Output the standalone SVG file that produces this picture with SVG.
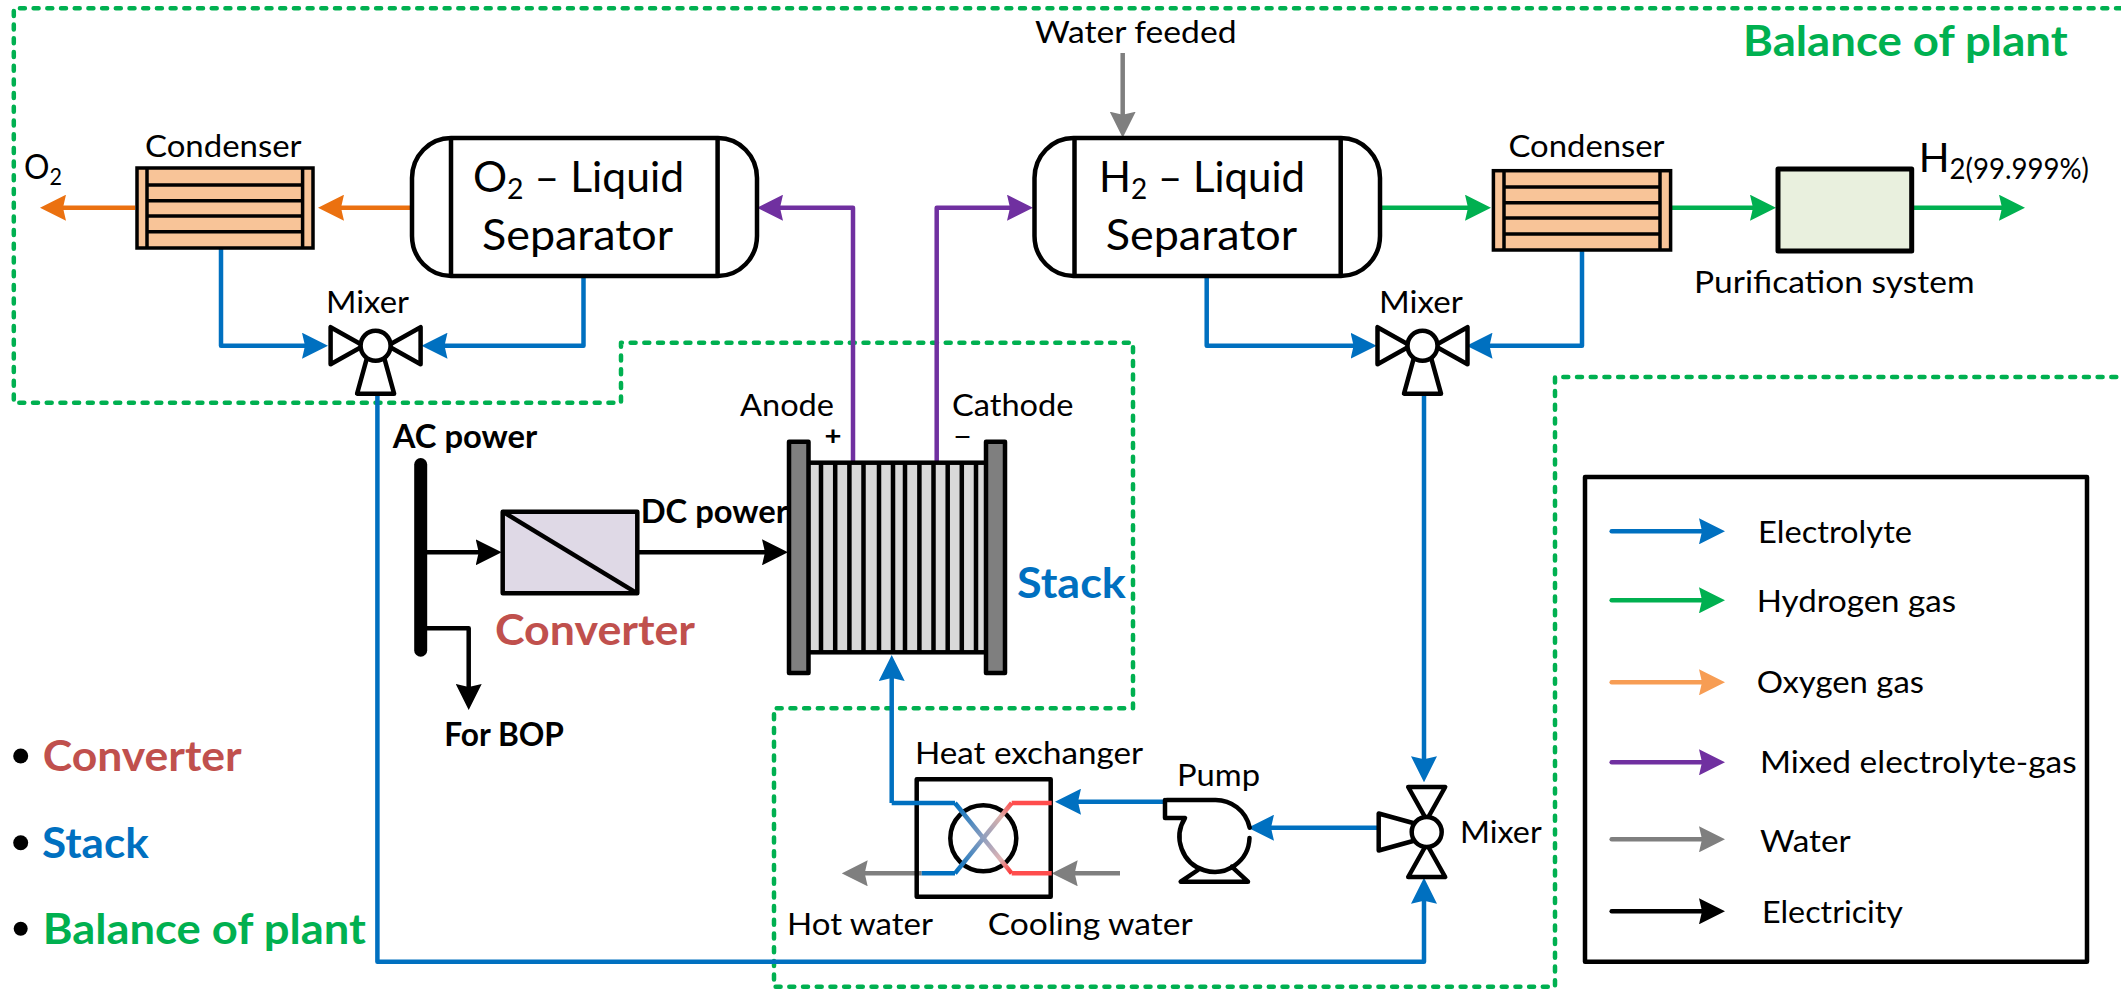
<svg xmlns="http://www.w3.org/2000/svg" width="2121" height="993" viewBox="0 0 2121 993">
<style>
text{font-family:"Lato","Carlito","Open Sans",sans-serif;fill:#000}
.l{font-size:31.5px}
.big{font-size:42px}
.b{font-weight:700}
.e{fill:none;stroke:#000;stroke-width:4.5;stroke-linejoin:round}
.c{fill:none;stroke-width:4.5;stroke-linejoin:round}
.blue{stroke:#0070c0}.green{stroke:#00b050}.orange{stroke:#eb7110}.lorange{stroke:#f79d54}.purple{stroke:#7030a0}.gray{stroke:#7f7f7f}.black{stroke:#000}
.lg{stroke-linecap:round}
.vb{marker-end:url(#ab)}.vg{marker-end:url(#ag)}.vo{marker-end:url(#ao)}.vl{marker-end:url(#al)}.vp{marker-end:url(#ap)}.vy{marker-end:url(#ay)}.vk{marker-end:url(#ak)}
.hl{fill:#f8c498;stroke:#000;stroke-width:3.5}
.ln{fill:none;stroke:#000;stroke-width:3.5}
.plate{fill:#7f7f7f;stroke:#000;stroke-width:4.5;stroke-linejoin:round}
</style>
<defs>
<marker id="ab" markerUnits="userSpaceOnUse" viewBox="0 0 26 26" markerWidth="26" markerHeight="26" refX="18" refY="13" orient="auto"><path d="M0 0L26 13L0 26L3 13Z" fill="#0070c0"/></marker>
<marker id="ag" markerUnits="userSpaceOnUse" viewBox="0 0 26 26" markerWidth="26" markerHeight="26" refX="18" refY="13" orient="auto"><path d="M0 0L26 13L0 26L3 13Z" fill="#00b050"/></marker>
<marker id="ao" markerUnits="userSpaceOnUse" viewBox="0 0 26 26" markerWidth="26" markerHeight="26" refX="18" refY="13" orient="auto"><path d="M0 0L26 13L0 26L3 13Z" fill="#eb7110"/></marker>
<marker id="al" markerUnits="userSpaceOnUse" viewBox="0 0 26 26" markerWidth="26" markerHeight="26" refX="18" refY="13" orient="auto"><path d="M0 0L26 13L0 26L3 13Z" fill="#f79d54"/></marker>
<marker id="ap" markerUnits="userSpaceOnUse" viewBox="0 0 26 26" markerWidth="26" markerHeight="26" refX="18" refY="13" orient="auto"><path d="M0 0L26 13L0 26L3 13Z" fill="#7030a0"/></marker>
<marker id="ay" markerUnits="userSpaceOnUse" viewBox="0 0 26 26" markerWidth="26" markerHeight="26" refX="18" refY="13" orient="auto"><path d="M0 0L26 13L0 26L3 13Z" fill="#7f7f7f"/></marker>
<marker id="ak" markerUnits="userSpaceOnUse" viewBox="0 0 26 26" markerWidth="26" markerHeight="26" refX="18" refY="13" orient="auto"><path d="M0 0L26 13L0 26L3 13Z" fill="#000"/></marker>
<g id="mixer-shape">
<path d="M-45 -18.5V18.5L-12 0Z M45 -18.5V18.5L12 0Z M-18.5 48H18.5L8 10H-8Z" fill="#fff" stroke="#000" stroke-width="4.5" stroke-linejoin="round"/>
<circle r="15" fill="#fff" stroke="#000" stroke-width="4.5"/>
</g>
<linearGradient id="g1" gradientUnits="userSpaceOnUse" x1="955" y1="803" x2="1011.7" y2="873.3"><stop offset="0" stop-color="#0070c0"/><stop offset=".5" stop-color="#8f9fbf"/><stop offset=".8" stop-color="#e0b4b4"/><stop offset="1" stop-color="#ff3030"/></linearGradient>
<linearGradient id="g2" gradientUnits="userSpaceOnUse" x1="955" y1="873.3" x2="1011.7" y2="803"><stop offset="0" stop-color="#0070c0"/><stop offset=".5" stop-color="#8f9fbf"/><stop offset=".8" stop-color="#d9b0ac"/><stop offset="1" stop-color="#ff4d4d"/></linearGradient>
</defs>

<g id="boundaries"><path d="M2121 8.3H13.8V402.7H621V342.7H1133V708.3H774V986.7H1555V377H2121" fill="none" stroke="#00b050" stroke-width="4.5" stroke-linecap="round" stroke-linejoin="round" stroke-dasharray="5 8.7"/></g>

<g id="connectors">
<path class="c orange vo" d="M135 207.7H48"/>
<path class="c orange vo" d="M413 207.7H326"/>
<path class="c blue vb" d="M221 248V345.7H320"/>
<path class="c blue vb" d="M583.5 276V345.7H429.5"/>
<path class="c blue vb" d="M377.4 394V961.7H1424V885.7"/>
<path class="c blue vb" d="M1206.7 276V345.7H1368.6"/>
<path class="c blue vb" d="M1582 250V345.7H1474.5"/>
<path class="c blue vb" d="M1424 394V774.3"/>
<path class="c blue vb" d="M1377 827.7H1256"/>
<path class="c blue vb" d="M1166.7 801.7H1063"/>
<path class="c blue vb" d="M891.7 803V663"/>
<path class="c purple vp" d="M853 462V207.7H765"/>
<path class="c purple vp" d="M936.7 462V207.7H1025"/>
<path class="c gray vy" d="M1122.7 53V129.7"/>
<path class="c gray vy" d="M1120 873.3H1059.7"/>
<path class="c gray vy" d="M921.7 873.3H849.7"/>
<path class="c green vg" d="M1380 207.7H1483"/>
<path class="c green vg" d="M1668 207.7H1768"/>
<path class="c green vg" d="M1911.7 207.7H2017"/>
<path class="c black vk" d="M427 552.3H493.7"/>
<path class="c black vk" d="M637 552.3H780"/>
<path class="c black vk" d="M427 628.3H468.7V702"/>
</g>

<g id="o2-label"><text x="24" y="179" textLength="38" lengthAdjust="spacingAndGlyphs" style="font-size:34px">O<tspan dy="6" style="font-size:23px">2</tspan></text></g>

<g id="condenser-1">
<rect class="hl" x="137" y="168" width="176" height="80"/>
<path class="ln" d="M147 168V248M302.6 168V248M147 185H302.6M147 200.7H302.6M147 216H302.6M147 231.7H302.6"/>
<text class="l" x="145" y="157" textLength="156.6" lengthAdjust="spacingAndGlyphs">Condenser</text>
</g>

<g id="o2-separator">
<rect class="e" x="412" y="138" width="345" height="138" rx="39" ry="40" fill="#fff"/>
<path class="e" d="M451 138V276M717.6 138V276"/>
<text class="big" x="473" y="192" textLength="211" lengthAdjust="spacingAndGlyphs">O<tspan dy="7" style="font-size:28px">2</tspan><tspan dy="-7"> – Liquid</tspan></text>
<text class="big" x="482" y="250" textLength="191" lengthAdjust="spacingAndGlyphs">Separator</text>
</g>

<g id="mixer-1">
<use href="#mixer-shape" transform="translate(375.6 345.7)"/>
<text class="l" x="326" y="313" textLength="83" lengthAdjust="spacingAndGlyphs">Mixer</text>
</g>

<g id="h2-separator">
<rect class="e" x="1034.5" y="138" width="345.5" height="138" rx="39" ry="40"/>
<path class="e" d="M1074.5 138V276M1340.7 138V276"/>
<text class="big" x="1099" y="192" textLength="206" lengthAdjust="spacingAndGlyphs">H<tspan dy="7" style="font-size:28px">2</tspan><tspan dy="-7"> – Liquid</tspan></text>
<text class="big" x="1105.7" y="250" textLength="191.3" lengthAdjust="spacingAndGlyphs">Separator</text>
</g>

<g id="water-feeded"><text class="l" x="1035" y="43" textLength="201.5" lengthAdjust="spacingAndGlyphs">Water feeded</text></g>

<g id="condenser-2">
<rect class="hl" x="1493.4" y="170.7" width="177.2" height="79.3"/>
<path class="ln" d="M1504 170.7V250M1660 170.7V250M1504 187H1660M1504 202.7H1660M1504 218H1660M1504 234H1660"/>
<text class="l" x="1508.5" y="157" textLength="156" lengthAdjust="spacingAndGlyphs">Condenser</text>
</g>

<g id="purification-system">
<rect x="1778" y="169" width="133.7" height="82" fill="#e9f0de" stroke="#000" stroke-width="5" stroke-linejoin="round"/>
<text class="l" x="1694" y="293" textLength="280.5" lengthAdjust="spacingAndGlyphs">Purification system</text>
</g>

<g id="h2-output"><text x="1918.7" y="171.7" textLength="170.3" lengthAdjust="spacingAndGlyphs" style="font-size:41px">H<tspan dy="7.5" style="font-size:28px">2(99.999%)</tspan></text></g>

<g id="balance-title"><text class="big b" x="1743" y="56" textLength="324.6" lengthAdjust="spacingAndGlyphs" style="fill:#00b050">Balance of plant</text></g>

<g id="mixer-2">
<use href="#mixer-shape" transform="translate(1422.5 345.7)"/>
<text class="l" x="1379" y="313" textLength="83.7" lengthAdjust="spacingAndGlyphs">Mixer</text>
</g>

<g id="mixer-3">
<use href="#mixer-shape" transform="translate(1426.7 832) rotate(90)"/>
<text class="l" x="1460" y="843" textLength="81.7" lengthAdjust="spacingAndGlyphs">Mixer</text>
</g>

<g id="pump">
<path class="e" d="M1166.7 800H1214A35 35 0 0 1 1249.7 827.7M1249.5 838A35 35 0 1 1 1185 818H1165V800M1198 870L1180.7 881.7H1248L1231.7 866.7" stroke-linecap="round"/>
<text class="l" x="1177" y="785.7" textLength="83" lengthAdjust="spacingAndGlyphs">Pump</text>
</g>

<g id="heat-exchanger">
<rect class="e" x="916.7" y="779.3" width="134" height="117.4"/>
<circle class="e" cx="983.3" cy="838.3" r="33"/>
<path class="c" stroke="url(#g1)" d="M955 803L1011.7 873.3"/>
<path class="c" stroke="url(#g2)" d="M955 873.3L1011.7 803"/>
<path class="c blue" d="M891.7 803H955M921.7 873.3H955"/>
<path class="c" stroke="#ff4d4d" d="M1011.7 803H1051.7M1011.7 873.3H1051.7"/>
<text class="l" x="915" y="764" textLength="228" lengthAdjust="spacingAndGlyphs">Heat exchanger</text>
<text class="l" x="787" y="935" textLength="146" lengthAdjust="spacingAndGlyphs">Hot water</text>
<text class="l" x="987.7" y="935" textLength="205" lengthAdjust="spacingAndGlyphs">Cooling water</text>
</g>

<g id="stack">
<rect x="808" y="462.7" width="180" height="189.6" fill="#d9d9d9" stroke="#000" stroke-width="4.5"/>
<path d="M821 462V652M835.2 462V652M849.4 462V652M863.5 462V652M879 462V652M893 462V652M905 462V652M919.4 462V652M933.5 462V652M947.7 462V652M961.8 462V652M976 462V652" stroke="#000" stroke-width="4.5" fill="none"/>
<rect class="plate" x="789" y="441.7" width="19.5" height="231.3"/>
<rect class="plate" x="986" y="441.7" width="19" height="231.3"/>
<text class="l" x="740" y="416" textLength="94" lengthAdjust="spacingAndGlyphs">Anode</text>
<text class="l" x="952" y="416" textLength="121.5" lengthAdjust="spacingAndGlyphs">Cathode</text>
<text class="b" x="824.5" y="444.5" textLength="17" lengthAdjust="spacingAndGlyphs" style="font-size:27px">+</text>
<text class="b" x="953.5" y="443.5" textLength="18" lengthAdjust="spacingAndGlyphs" style="font-size:20px">−</text>
<text class="big b" x="1017" y="598" textLength="108.8" lengthAdjust="spacingAndGlyphs" style="fill:#0070c0">Stack</text>
</g>

<g id="converter">
<rect x="502.7" y="511.7" width="134.6" height="81.6" fill="#dfd9e6" stroke="#000" stroke-width="4.5" stroke-linejoin="round"/>
<path d="M502.7 511.7L637.3 593.3" stroke="#000" stroke-width="4.5"/>
<text class="big b" x="495" y="645" textLength="200" lengthAdjust="spacingAndGlyphs" style="fill:#c0504d">Converter</text>
<text class="b" x="640.7" y="522.7" textLength="147.3" lengthAdjust="spacingAndGlyphs" style="font-size:31.5px">DC power</text>
</g>

<g id="ac-bus">
<path d="M420.7 464.5V650.2" stroke="#000" stroke-width="13" stroke-linecap="round"/>
<text class="b" x="392.7" y="448.3" textLength="144.6" lengthAdjust="spacingAndGlyphs" style="font-size:31.5px">AC power</text>
<text class="b" x="444.3" y="746" textLength="119.7" lengthAdjust="spacingAndGlyphs" style="font-size:31.5px">For BOP</text>
</g>

<g id="legend">
<rect x="1585" y="477" width="502" height="484.7" fill="none" stroke="#000" stroke-width="4.5" stroke-linejoin="round"/>
<path class="c blue lg" style="marker-end:url(#ab)" d="M1611.7 531.3H1717"/>
<path class="c green lg" style="marker-end:url(#ag)" d="M1611.7 600.3H1717"/>
<path class="c lorange lg" style="marker-end:url(#al)" d="M1611.7 682.3H1717"/>
<path class="c purple lg" style="marker-end:url(#ap)" d="M1611.7 762.3H1717"/>
<path class="c gray lg" style="marker-end:url(#ay)" d="M1611.7 839.3H1717"/>
<path class="c black lg" style="marker-end:url(#ak)" d="M1611.7 911.3H1717"/>
<text class="l" x="1758" y="542.7" textLength="154" lengthAdjust="spacingAndGlyphs">Electrolyte</text>
<text class="l" x="1756.7" y="611.7" textLength="199.3" lengthAdjust="spacingAndGlyphs">Hydrogen gas</text>
<text class="l" x="1756.7" y="693.3" textLength="167.3" lengthAdjust="spacingAndGlyphs">Oxygen gas</text>
<text class="l" x="1760" y="773.3" textLength="316.7" lengthAdjust="spacingAndGlyphs">Mixed electrolyte-gas</text>
<text class="l" x="1760" y="851.7" textLength="90.7" lengthAdjust="spacingAndGlyphs">Water</text>
<text class="l" x="1762" y="923.3" textLength="141" lengthAdjust="spacingAndGlyphs">Electricity</text>
</g>

<g id="parts-list">
<circle cx="20.7" cy="756" r="7.5"/>
<circle cx="20.7" cy="842.7" r="7.5"/>
<circle cx="20.7" cy="928.7" r="7"/>
<text class="big b" x="42.7" y="771" textLength="199" lengthAdjust="spacingAndGlyphs" style="fill:#c0504d">Converter</text>
<text class="big b" x="42" y="858" textLength="106.7" lengthAdjust="spacingAndGlyphs" style="fill:#0070c0">Stack</text>
<text class="big b" x="42.7" y="944" textLength="323.3" lengthAdjust="spacingAndGlyphs" style="fill:#00b050">Balance of plant</text>
</g>
</svg>
